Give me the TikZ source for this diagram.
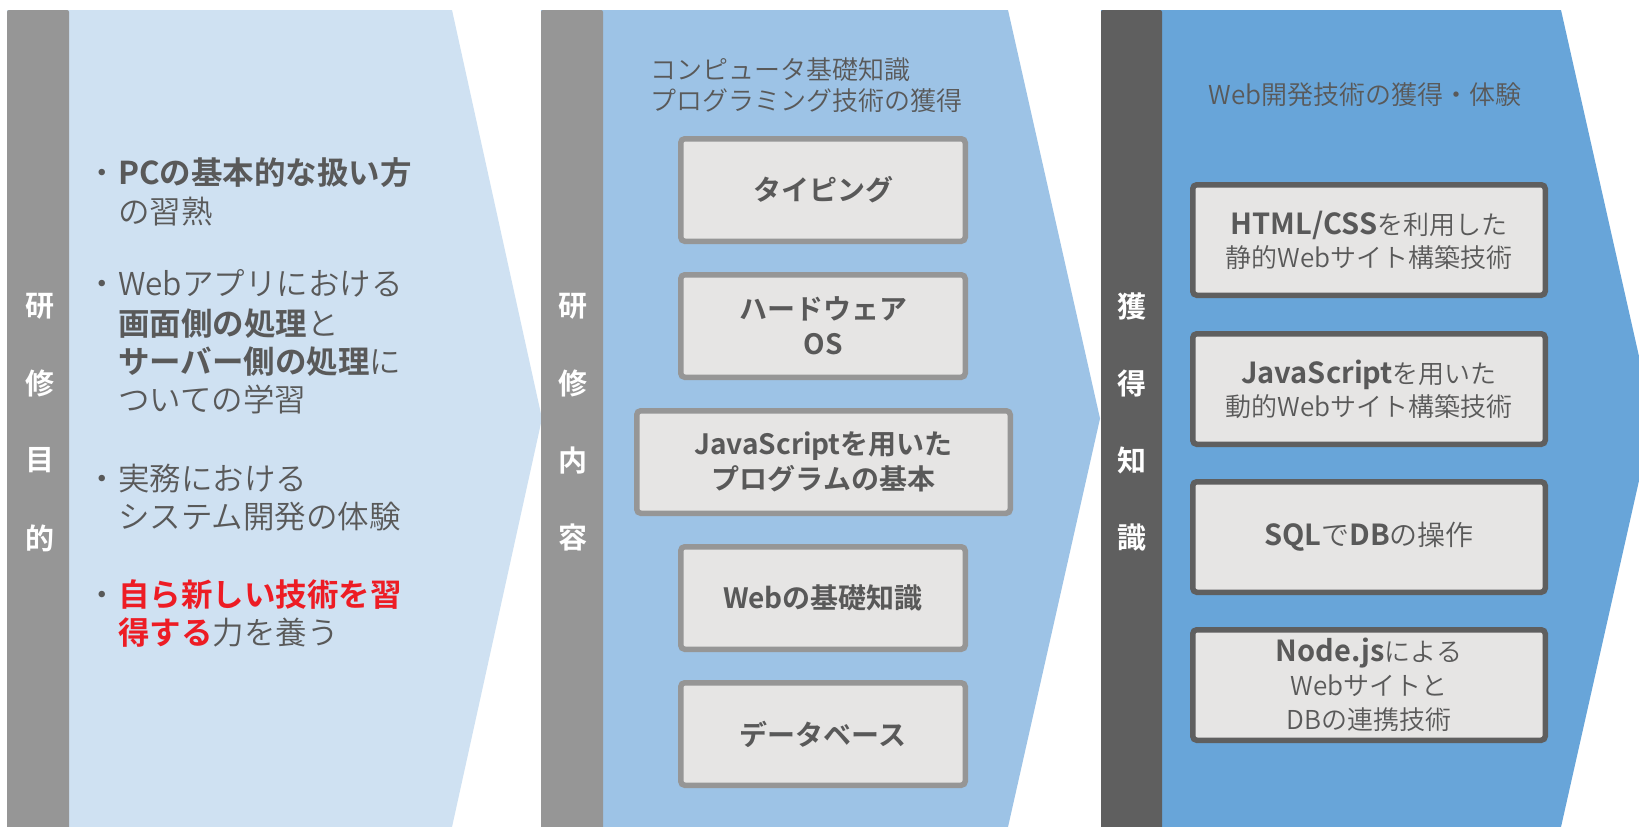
\documentclass[tikz,border=0pt]{standalone}
\usepackage{fontspec}
\IfFontExistsTF{Noto Sans CJK JP DemiLight}
  {\setmainfont{Noto Sans CJK JP DemiLight}[BoldFont={Noto Sans CJK JP Bold}]}
  {\setmainfont{Noto Sans CJK JP}}
\definecolor{barA}{HTML}{969696}
\definecolor{barC}{HTML}{5F5F5F}
\definecolor{fillA}{HTML}{CFE1F2}
\definecolor{fillB}{HTML}{9DC3E6}
\definecolor{fillC}{HTML}{68A5D9}
\definecolor{boxfill}{HTML}{E6E5E4}
\definecolor{txt}{HTML}{595959}
\definecolor{redtxt}{HTML}{ED1C24}
\tikzset{
  vlab/.style={text=white,font=\fontsize{29}{29}\selectfont\bfseries,inner sep=0pt},
  bline/.style={anchor=west,inner sep=0pt,text=txt,font=\fontsize{31.5}{38}\selectfont,text height=27.7pt,text depth=3.8pt},
  subline/.style={inner sep=0pt,text=txt,font=\fontsize{26}{31}\selectfont,text height=22.9pt,text depth=3.1pt},
  boxB/.style={draw=barA,fill=boxfill,line width=5.5pt,rounded corners=4pt,minimum width=284.5pt,minimum height=102.5pt,inner sep=0pt,align=center,text=txt,font=\fontsize{28}{35}\selectfont\bfseries},
  boxC/.style={draw=barC,fill=boxfill,line width=5.5pt,rounded corners=4pt,minimum width=352.5pt,minimum height=110.5pt,inner sep=0pt,align=center,text=txt,font=\fontsize{26}{33}\selectfont},
}
\newcommand{\bl}[1]{{\fontsize{29}{33}\selectfont\bfseries #1}}
\begin{document}
\begin{tikzpicture}[x=1pt,y=-1pt]
\useasboundingbox (0,0) rectangle (1639,827);
\clip (0,0) rectangle (1639,827);
\fill[white] (0,0) rectangle (1639,827);
% panel shapes
\fill[fillA] (7,10) -- (452,10) -- (542,418.5) -- (452,827) -- (7,827) -- cycle;
\fill[fillB] (541,10) -- (1008,10) -- (1100,418.5) -- (1008,827) -- (541,827) -- cycle;
\fill[fillC] (1101,10) -- (1561,10) -- (1653,418.5) -- (1561,827) -- (1101,827) -- cycle;
\fill[barA, rounded corners=2pt] (7,830) -- (7,10) -- (69,10) -- (69,830) -- cycle;
\fill[barA, rounded corners=2pt] (541,830) -- (541,10) -- (603,10) -- (603,830) -- cycle;
\fill[barC, rounded corners=2pt] (1101,830) -- (1101,10) -- (1162,10) -- (1162,830) -- cycle;
% vertical labels
\foreach \c [count=\i] in {研,修,目,的}
  \node[vlab] (pa-\i) at (40,{306+77.3*(\i-1)}) {\c};
\foreach \c [count=\i] in {研,修,内,容}
  \node[vlab] (pb-\i) at (573,{306+77.3*(\i-1)}) {\c};
\foreach \c [count=\i] in {獲,得,知,識}
  \node[vlab] (pc-\i) at (1132,{306+77.3*(\i-1)}) {\c};
% panel 1 text
\node[bline] (l1) at (118,173) {\llap{・}\textbf{PCの基本的な扱い方}};
\node[bline] (l2) at (118,212) {の習熟};
\node[bline] (l3) at (118,284) {\llap{・}Webアプリにおける};
\node[bline] (l4) at (118,324) {\textbf{画面側の処理}と};
\node[bline] (l5) at (118,362) {\textbf{サーバー側の処理}に};
\node[bline] (l6) at (118,400) {ついての学習};
\node[bline] (l7) at (118,479) {\llap{・}実務における};
\node[bline] (l8) at (118,517) {システム開発の体験};
\node[bline] (l9) at (118,595) {\llap{・}\textcolor{redtxt}{\bfseries 自ら新しい技術を習}};
\node[bline] (l10) at (118,633) {\textcolor{redtxt}{\bfseries 得する}力を養う};
% panel 2
\node[subline,anchor=west] (s1) at (650,70) {コンピュータ基礎知識};
\node[subline,anchor=west] (s2) at (650,101) {プログラミング技術の獲得};
\node[boxB] (b1) at (823,190) {タイピング};
\node[boxB] (b2) at (823,326) {ハードウェア\\OS};
\node[boxB,minimum width=373.5pt] (b3) at (823.5,462) {JavaScriptを用いた\\プログラムの基本};
\node[boxB] (b4) at (823,598) {Webの基礎知識};
\node[boxB] (b5) at (823,734) {データベース};
% panel 3
\node[subline] (s3) at (1365,95) {Web開発技術の獲得・体験};
\node[boxC] (c1) at (1369,240) {\bl{HTML/CSS}を利用した\\静的Webサイト構築技術};
\node[boxC] (c2) at (1369,389) {\bl{JavaScript}を用いた\\動的Webサイト構築技術};
\node[boxC,font=\fontsize{28}{33}\selectfont] (c3) at (1369,537) {\bl{SQL}で\bl{DB}の操作};
\node[boxC,font=\fontsize{26}{34}\selectfont] (c4) at (1369,685) {\bl{Node.js}による\\Webサイトと\\DBの連携技術};
\end{tikzpicture}
\end{document}
